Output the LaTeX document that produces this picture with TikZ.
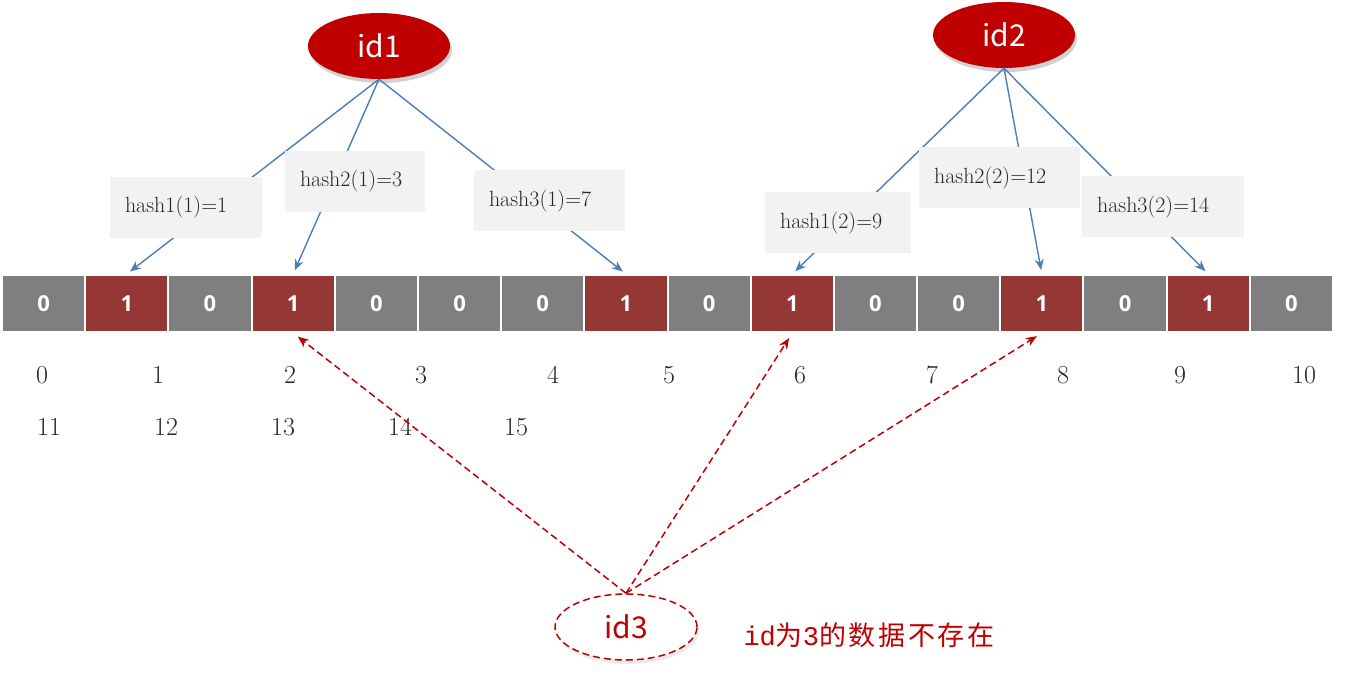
\documentclass[tikz,border=0pt]{standalone}
\usepackage{fontspec}
\newfontfamily\cjk{Noto Sans CJK SC}
\newfontfamily\cjknote[LetterSpace=10]{Noto Sans CJK SC}
\newfontfamily\monof{Liberation Mono}
\newfontfamily\boldsans{Open Sans}
\usepackage{tikz}
\usetikzlibrary{arrows.meta,shapes.geometric,shadows}
\definecolor{cellgray}{HTML}{7F7F7F}
\definecolor{cellred}{HTML}{953735}
\definecolor{idred}{HTML}{C00000}
\definecolor{linkblue}{HTML}{4A7EBB}
\definecolor{boxgray}{HTML}{F2F2F2}

\begin{document}
\begin{tikzpicture}[x=1pt,y=-1pt,
  cell/.style={draw=white,line width=2pt,minimum width=83.2pt,minimum height=57pt,
    inner sep=0pt,text=white,font=\boldsans\bfseries\fontsize{22}{26}\selectfont},
  cell0/.style={fill=cellgray},
  cell1/.style={fill=cellred},
  idball/.style={ellipse,fill=idred,text=white,minimum width=142pt,minimum height=66pt,
    font=\cjk\fontsize{30}{36}\selectfont,
    drop shadow={shadow xshift=2pt,shadow yshift=-4pt,opacity=0.3,fill=black!60}},
  idghost/.style={ellipse,draw=idred,fill=white,text=idred,line width=1.5pt,
    dash pattern=on 7pt off 4pt,minimum width=142pt,minimum height=66pt,
    font=\cjk\fontsize{30}{36}\selectfont,
    drop shadow={shadow xshift=2pt,shadow yshift=-4pt,opacity=0.2,fill=black!40}},
  hashbox/.style={fill=boxgray,minimum height=61pt,inner ysep=0pt,inner xsep=15pt,
    align=left,font=\fontsize{22}{26}\selectfont,text=black!85},
  link/.style={linkblue,line width=1.4pt,-{Stealth[length=11pt,width=9pt]},shorten >=4pt},
  miss/.style={idred,line width=1.5pt,dash pattern=on 7pt off 4pt,
    -{Stealth[length=11pt,width=9pt]},shorten >=6pt},
  idx/.style={font=\fontsize{26}{30}\selectfont,text=black!85}
]
\useasboundingbox (0,0) rectangle (1346,676);

% bit array
\foreach \v [count=\i from 0] in {0,1,0,1,0,0,0,1,0,1,0,0,1,0,1,0}
  \node[cell,cell\v] (c\i) at (43.6+83.19*\i,303.5) {\v};

% positions
\foreach \x/\t in {42/0,158/1,290/2,421/3,553/4,669/5,800/6,932/7,1063/8,1180/9,1304/10}
  \node[idx] (n\t) at (\x,375) {\t};
\foreach \x/\t in {49/11,166/12,283/13,400/14,516/15}
  \node[idx] (n\t) at (\x,427) {\t};

\node[idball] (id1) at (379,46) {id1};
\node[idball] (id2) at (1004,35) {id2};

\draw[link] (id1.south) -- (c1.north);
\draw[link] (id1.south) -- (c3.north);
\draw[link] (id1.south) -- (c7.north);
\draw[link] (id2.south) -- (c9.north);
\draw[link] (id2.south) -- (c12.north);
\draw[link] (id2.south) -- (c14.north);

\node[hashbox,text width=122pt] (h11) at (186,207.5) {hash1(1)=1};
\node[hashbox,text width=110pt] (h21) at (355,181.5) {hash2(1)=3};
\node[hashbox,text width=121pt] (h31) at (549.5,201) {hash3(1)=7};
\node[hashbox,text width=116pt] (h12) at (838,223) {hash1(2)=9};
\node[hashbox,text width=131pt] (h22) at (999.5,178) {hash2(2)=12};
\node[hashbox,text width=132pt] (h32) at (1163,207) {hash3(2)=14};

\node[idghost] (id3) at (626,627) {id3};
\node[anchor=west,text=idred,font=\cjknote\fontsize{27}{32}\selectfont] (note) at (740,635)
  {{\monof id}为{\monof 3}的数据不存在};

\draw[miss] (id3.north) -- (c3.south);
\draw[miss] (id3.north) -- (c9.south);
\draw[miss] (id3.north) -- (c12.south);
\end{tikzpicture}
\end{document}
